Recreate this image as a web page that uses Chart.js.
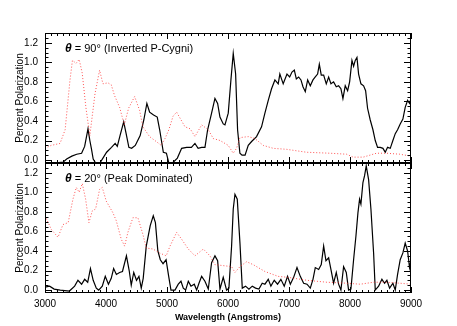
<!DOCTYPE html>
<html>
<head>
<meta charset="utf-8">
<script src="https://cdn.jsdelivr.net/npm/chart.js@4"></script>
<style>
  html, body { margin: 0; padding: 0; background: #fff; }
  #wrap { position: relative; width: 457px; height: 326px; }
  #wrap canvas { position: absolute; left: 0; }
  /* the y scale reserves 13px (half label + tick padding) at its ends, so the canvases overlap */
  #topChart { top: 0; }
  #bottomChart { top: 150px; }
</style>
</head>
<body>
<div id="wrap">
  <canvas id="topChart" width="457" height="176"></canvas>
  <canvas id="bottomChart" width="457" height="176"></canvas>
</div>
<script>
// --- data ---
const xTicks = [3000, 4000, 5000, 6000, 7000, 8000, 9000];
const yTicks = [0.0, 0.2, 0.4, 0.6, 0.8, 1.0, 1.2];

// theta = 90 (top panel)
const top90Wave = [3000, 3150, 3300, 3355, 3440, 3520, 3600, 3650, 3705, 3735, 3760, 3790, 3830, 3900, 3960, 4010, 4090, 4150, 4185, 4230, 4290, 4330, 4375, 4420, 4480, 4560, 4620, 4670, 4700, 4715, 4780, 4840, 4880, 4940, 4990, 5030, 5090, 5170, 5240, 5322, 5400, 5458, 5510, 5568, 5622, 5666, 5731, 5786, 5830, 5868, 5922, 5950, 6004, 6048, 6086, 6125, 6157, 6195, 6230, 6280, 6332, 6387, 6468, 6550, 6605, 6660, 6714, 6769, 6823, 6850, 6905, 6967, 7011, 7049, 7087, 7120, 7158, 7196, 7229, 7267, 7306, 7349, 7393, 7431, 7469, 7497, 7529, 7568, 7611, 7650, 7688, 7731, 7775, 7813, 7851, 7884, 7922, 7961, 7994, 8032, 8059, 8086, 8114, 8141, 8179, 8223, 8256, 8288, 8332, 8376, 8414, 8452, 8496, 8540, 8578, 8616, 8660, 8703, 8742, 8780, 8823, 8867, 8905, 8944, 8976, 9000];
const top90Pol = [-0.03, -0.03, -0.02, 0.01, 0.04, 0.06, 0.07, 0.14, 0.32, 0.2, 0.12, 0.01, -0.03, -0.03, 0.03, 0.08, 0.13, 0.17, 0.14, 0.25, 0.39, 0.27, 0.13, 0.12, 0.15, 0.25, 0.41, 0.58, 0.52, 0.49, 0.46, 0.44, 0.31, 0.08, 0.07, -0.03, -0.03, 0.02, 0.12, 0.13, 0.13, 0.17, 0.12, 0.13, 0.13, 0.31, 0.48, 0.63, 0.58, 0.44, 0.37, 0.36, 0.48, 0.82, 1.09, 0.88, 0.31, 0.07, 0.05, 0.05, 0.15, 0.19, 0.24, 0.34, 0.48, 0.61, 0.73, 0.82, 0.78, 0.88, 0.78, 0.88, 0.85, 0.9, 0.92, 0.83, 0.85, 0.82, 0.75, 0.7, 0.82, 0.76, 0.82, 0.85, 0.88, 0.98, 0.87, 0.87, 0.78, 0.85, 0.78, 0.8, 0.75, 0.76, 0.73, 0.63, 0.76, 0.71, 0.8, 1.02, 0.96, 1.02, 1.05, 0.88, 0.78, 0.76, 0.71, 0.53, 0.41, 0.31, 0.2, 0.13, 0.13, 0.12, 0.08, 0.13, 0.12, 0.2, 0.27, 0.31, 0.37, 0.42, 0.54, 0.61, 0.58, 0.63];
const top90RefWave = [3000, 3100, 3246, 3330, 3410, 3450, 3510, 3560, 3610, 3670, 3735, 3820, 3895, 3950, 4032, 4086, 4140, 4223, 4300, 4370, 4469, 4550, 4605, 4714, 4823, 4905, 4967, 5030, 5100, 5158, 5295, 5380, 5458, 5568, 5677, 5759, 5870, 6004, 6086, 6140, 6196, 6332, 6441, 6578, 6742, 6960, 7288, 7670, 7943, 8052, 8216, 8434, 8598, 8816, 9000];
const top90RefPol = [0.12, 0.15, 0.17, 0.31, 0.82, 1.02, 0.99, 1.03, 0.89, 0.54, 0.25, 0.68, 0.92, 0.78, 0.79, 0.77, 0.66, 0.54, 0.36, 0.53, 0.65, 0.51, 0.34, 0.24, 0.19, 0.15, 0.22, 0.31, 0.45, 0.49, 0.34, 0.32, 0.24, 0.36, 0.31, 0.22, 0.2, 0.15, 0.07, 0.12, 0.23, 0.24, 0.22, 0.15, 0.12, 0.11, 0.08, 0.07, 0.06, 0.03, 0.03, 0.07, 0.07, 0.06, 0.04];

// theta = 20 (bottom panel)
const bot20Wave = [3000, 3076, 3150, 3250, 3400, 3486, 3540, 3600, 3650, 3700, 3745, 3790, 3841, 3880, 3939, 3988, 4040, 4086, 4125, 4170, 4223, 4270, 4335, 4380, 4414, 4455, 4500, 4540, 4578, 4610, 4660, 4725, 4775, 4810, 4850, 4890, 4935, 4985, 5025, 5065, 5131, 5185, 5229, 5267, 5306, 5349, 5393, 5447, 5486, 5524, 5568, 5622, 5677, 5731, 5786, 5830, 5868, 5922, 5977, 6015, 6059, 6086, 6114, 6152, 6196, 6234, 6288, 6343, 6398, 6452, 6507, 6561, 6605, 6660, 6703, 6758, 6812, 6867, 6922, 6976, 7022, 7076, 7131, 7185, 7240, 7295, 7349, 7393, 7431, 7486, 7529, 7568, 7606, 7650, 7688, 7731, 7775, 7813, 7851, 7895, 7939, 7977, 8015, 8059, 8097, 8130, 8157, 8179, 8212, 8239, 8266, 8305, 8343, 8387, 8414, 8469, 8523, 8567, 8605, 8649, 8703, 8742, 8780, 8823, 8867, 8905, 8944, 8976, 9000];
const bot20Pol = [0.03, 0.04, 0.01, 0.0, -0.01, 0.04, 0.1, 0.06, 0.11, 0.08, 0.22, 0.1, 0.02, 0.0, 0.04, 0.14, 0.06, 0.12, 0.22, 0.16, 0.18, 0.19, 0.35, 0.2, 0.05, 0.18, 0.1, 0.14, 0.02, 0.12, 0.45, 0.66, 0.76, 0.69, 0.4, 0.31, 0.27, 0.31, 0.15, 0.0, 0.0, 0.06, 0.09, 0.02, 0.0, 0.09, 0.04, 0.06, 0.0, 0.07, 0.14, 0.09, 0.01, 0.28, 0.35, 0.3, 0.01, 0.13, 0.0, 0.02, 0.45, 0.83, 0.98, 0.93, 0.48, 0.02, 0.04, 0.01, 0.04, 0.02, 0.01, 0.07, 0.06, 0.11, 0.04, 0.1, 0.06, 0.11, 0.04, 0.14, 0.06, 0.13, 0.23, 0.14, 0.07, 0.06, 0.02, 0.11, 0.23, 0.21, 0.26, 0.45, 0.3, 0.33, 0.21, 0.07, 0.18, 0.06, 0.0, 0.24, 0.18, 0.0, 0.01, 0.31, 0.55, 0.79, 0.93, 0.88, 1.1, 1.17, 1.27, 1.13, 0.83, 0.38, 0.0, 0.04, 0.11, 0.07, 0.1, 0.02, 0.07, 0.0, 0.16, 0.31, 0.38, 0.48, 0.4, 0.23, 0.31];
const bot20RefWave = [3000, 3104, 3213, 3295, 3380, 3458, 3513, 3560, 3611, 3666, 3720, 3775, 3830, 3895, 3939, 4004, 4114, 4168, 4250, 4305, 4359, 4441, 4523, 4605, 4660, 4769, 4878, 4987, 5049, 5158, 5240, 5349, 5458, 5595, 5704, 5786, 6059, 6114, 6196, 6305, 6414, 6605, 6823, 6987, 7295, 7622, 7950, 8168, 8387, 8605, 8823, 9000];
const bot20RefPol = [0.76, 0.62, 0.54, 0.67, 0.69, 0.93, 1.05, 1.0, 1.09, 0.93, 0.69, 0.81, 0.83, 1.03, 1.05, 0.91, 0.79, 0.71, 0.52, 0.45, 0.59, 0.74, 0.74, 0.57, 0.43, 0.42, 0.38, 0.35, 0.45, 0.59, 0.52, 0.42, 0.35, 0.42, 0.35, 0.26, 0.24, 0.18, 0.24, 0.29, 0.26, 0.19, 0.14, 0.13, 0.1, 0.08, 0.07, 0.06, 0.08, 0.08, 0.07, 0.06];

const panelLabels = [
    { sym: 'θ', text: ' = 90° (Inverted P-Cygni)' },
    { sym: 'θ', text: ' = 20° (Peak Dominated)' }
];

function zip(xs, ys) {
    return xs.map((x, i) => ({ x: x, y: ys[i] }));
}

// inward IDL-style ticks + frame + panel label
const idlFrame = {
    id: 'idlFrame',
    afterDatasetsDraw(chart, args, opts) {
        const { ctx, chartArea: a, scales } = chart;
        const xs = scales.x, ys = scales.y;
        ctx.save();
        ctx.strokeStyle = '#000';
        ctx.lineWidth = 1;
        ctx.strokeRect(a.left + 0.5, a.top + 0.5, a.right - a.left - 1, a.bottom - a.top - 1);
        ctx.beginPath();
        for (let v = xs.min; v <= xs.max; v += 100) {
            const px = Math.round(xs.getPixelForValue(v)) + 0.5;
            const len = v % 1000 === 0 ? 6 : 3;
            ctx.moveTo(px, a.top); ctx.lineTo(px, a.top + len);
            ctx.moveTo(px, a.bottom); ctx.lineTo(px, a.bottom - len);
        }
        for (let k = 0; k * 0.05 <= ys.max; k++) {
            const py = Math.round(ys.getPixelForValue(k * 0.05)) + 0.5;
            const len = k % 4 === 0 ? 7 : 3.5;
            ctx.moveTo(a.left, py); ctx.lineTo(a.left + len, py);
            ctx.moveTo(a.right, py); ctx.lineTo(a.right - len, py);
        }
        ctx.stroke();

        const lab = opts.label;
        if (lab) {
            const x0 = a.left + 20, y0 = a.top + 16;
            ctx.fillStyle = '#000';
            ctx.textBaseline = 'middle';
            ctx.font = 'italic bold 12px "Liberation Sans", Arial, sans-serif';
            ctx.fillText(lab.sym, x0, y0);
            const w = ctx.measureText(lab.sym).width;
            ctx.font = '11px "Liberation Sans", Arial, sans-serif';
            ctx.fillText(lab.text, x0 + w, y0);
        }
        ctx.restore();
    }
};

const tickFont = { family: '"Liberation Sans", Arial, sans-serif', size: 10 };

function makePanel(canvasId, blackWave, blackPol, redWave, redPol, label, showX) {
    return new Chart(document.getElementById(canvasId), {
        type: 'line',
        data: {
            datasets: [
                {
                    data: zip(redWave, redPol),
                    borderColor: 'rgba(255, 40, 40, 0.8)',
                    borderWidth: 1,
                    borderDash: [1, 2],
                    pointRadius: 0,
                    tension: 0
                },
                {
                    data: zip(blackWave, blackPol),
                    borderColor: '#000',
                    borderWidth: 1.2,
                    pointRadius: 0,
                    tension: 0
                }
            ]
        },
        options: {
            responsive: false,
            animation: false,
            layout: {
                padding: { top: showX ? 0 : 33, right: 46, bottom: 0, left: 10 }
            },
            plugins: {
                legend: { display: false },
                tooltip: { enabled: false },
                idlFrame: { label: label }
            },
            scales: {
                x: {
                    type: 'linear',
                    min: 3000,
                    max: 9000,
                    display: showX,
                    afterBuildTicks: s => { s.ticks = xTicks.map(v => ({ value: v })); },
                    afterFit: s => { if (showX) s.height = 33; },
                    grid: { display: false, drawTicks: false },
                    border: { display: false },
                    ticks: { color: '#000', font: tickFont, padding: 5, maxRotation: 0, callback: v => String(v) },
                    title: {
                        display: true,
                        text: 'Wavelength (Angstroms)',
                        color: '#000',
                        font: { family: '"Liberation Sans", Arial, sans-serif', size: 9, weight: 'bold' },
                        padding: { top: 0, bottom: 3 }
                    }
                },
                y: {
                    min: -0.03,
                    max: 1.3,
                    afterBuildTicks: s => { s.ticks = yTicks.map(v => ({ value: v })); },
                    afterFit: s => { s.width = 35; },
                    grid: { display: false, drawTicks: false },
                    border: { display: false },
                    ticks: { color: '#000', font: tickFont, padding: 7, callback: v => v.toFixed(1) },
                    title: {
                        display: true,
                        text: 'Percent Polarization',
                        color: '#000',
                        font: { family: '"Liberation Sans", Arial, sans-serif', size: 10 },
                        padding: { top: 4, bottom: 0 }
                    }
                }
            }
        },
        plugins: [idlFrame]
    });
}

makePanel('topChart', top90Wave, top90Pol, top90RefWave, top90RefPol, panelLabels[0], false);
makePanel('bottomChart', bot20Wave, bot20Pol, bot20RefWave, bot20RefPol, panelLabels[1], true);
</script>
</body>
</html>
